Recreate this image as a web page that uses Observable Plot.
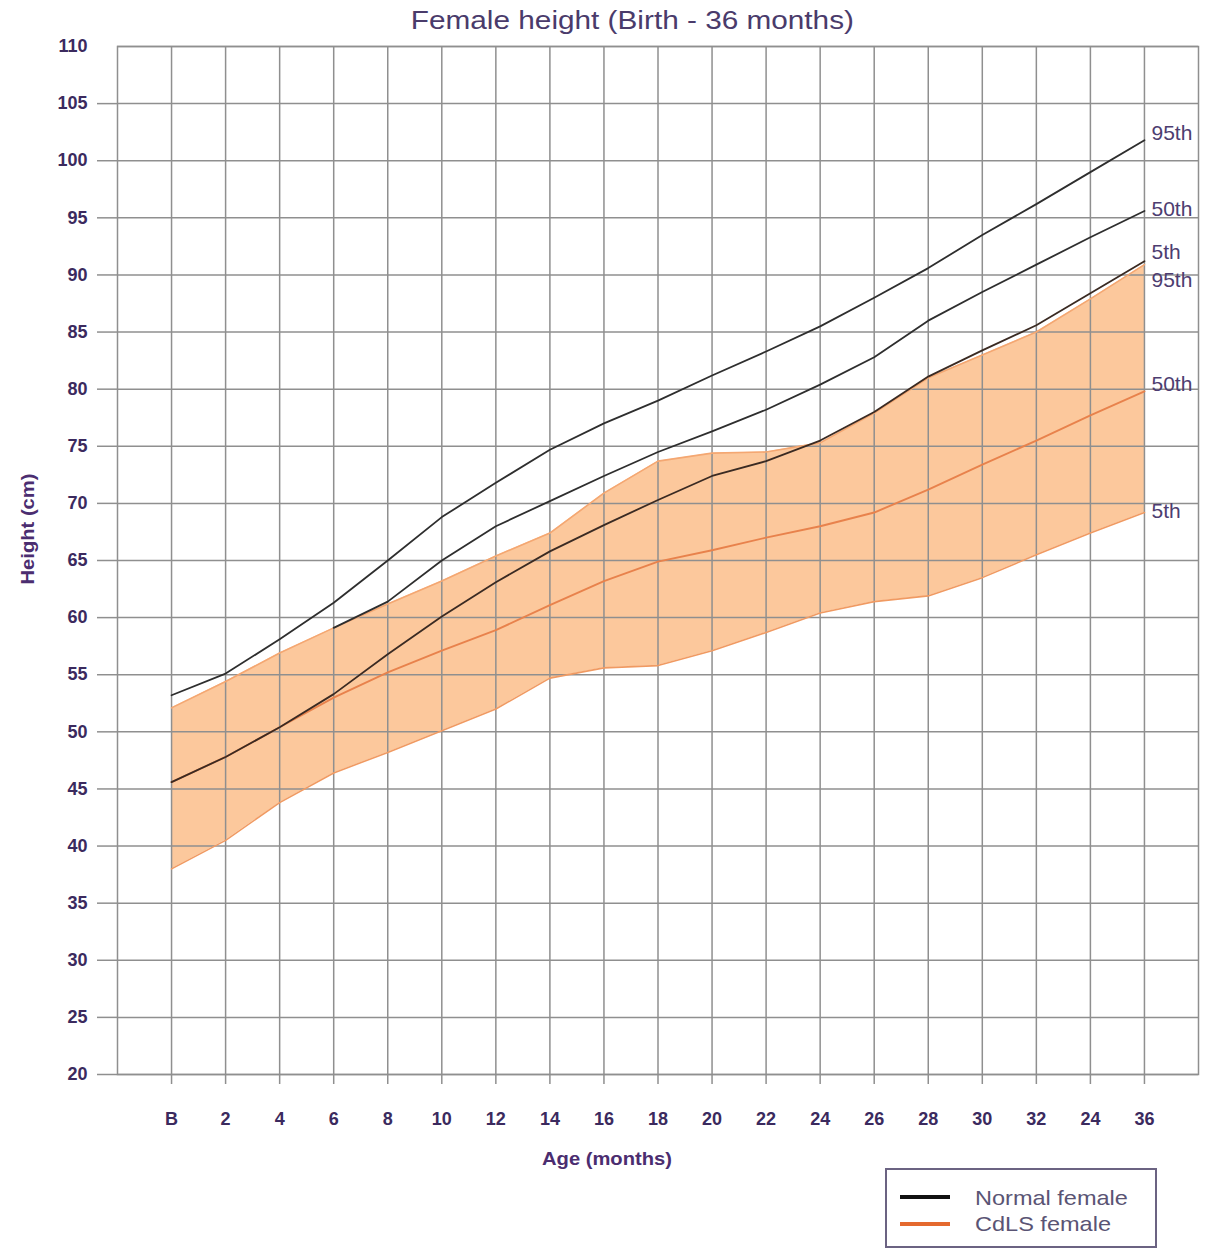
<!DOCTYPE html>
<html>
<head>
<meta charset="utf-8">
<script src="https://cdn.jsdelivr.net/npm/d3@7"></script>
<script src="https://cdn.jsdelivr.net/npm/@observablehq/plot@0.6"></script>
<style>
  html, body { margin: 0; padding: 0; background: #fff; }
  #wrap { position: relative; width: 1205px; height: 1250px; overflow: hidden; font-family: "Liberation Sans", Arial, sans-serif; }
  #chart { position: absolute; left: 0; top: 0; }
  .title { position: absolute; left: 0; width: 1265px; top: 6px; text-align: center; font-size: 25px; color: #4a3b6b; transform: scaleX(1.19); transform-origin: 633px 0; white-space: nowrap; }
  .xlab { position: absolute; left: 607px; top: 1149px; transform: translateX(-50%) scaleX(1.12); font-size: 18px; font-weight: bold; color: #4b2d70; white-space: nowrap; }
  .ylab { position: absolute; left: 28px; top: 529px; transform: translate(-50%, -50%) rotate(-90deg) scaleX(1.12); font-size: 18px; font-weight: bold; color: #4b2d70; white-space: nowrap; }
  .legend { position: absolute; left: 885px; top: 1168px; width: 268px; height: 76px; border: 2px solid #6b6382; background: #fff; }
  .legend .sw { position: absolute; left: 13px; width: 50px; height: 4px; }
  .legend .lt { position: absolute; left: 88px; font-size: 21px; color: #5a5474; white-space: nowrap; transform: scaleX(1.12); transform-origin: 0 50%; }
</style>
</head>
<body>
<div id="wrap">
  <div id="chart"></div>
  <div class="title">Female height (Birth - 36 months)</div>
  <div class="xlab">Age (months)</div>
  <div class="ylab">Height (cm)</div>
  <div class="legend">
    <div class="sw" style="top:25px;background:#111;"></div>
    <div class="lt" style="top:16px;">Normal female</div>
    <div class="sw" style="top:52px;background:#e4692e;"></div>
    <div class="lt" style="top:42px;">CdLS female</div>
  </div>
</div>
<script>
// Age in months (B = birth)
const ages = [0, 2, 4, 6, 8, 10, 12, 14, 16, 18, 20, 22, 24, 26, 28, 30, 32, 34, 36];
const xTickLabels = ["B", "2", "4", "6", "8", "10", "12", "14", "16", "18", "20", "22", "24", "26", "28", "30", "32", "24", "36"];
const yTicks = [20, 25, 30, 35, 40, 45, 50, 55, 60, 65, 70, 75, 80, 85, 90, 95, 100, 105, 110];

// Normal female percentiles (cm)
const normal95 = [53.2, 55.1, 58.1, 61.3, 65.0, 68.8, 71.8, 74.7, 77.0, 79.0, 81.2, 83.3, 85.5, 88.0, 90.6, 93.5, 96.2, 99.0, 101.8];
const normal50 = [null, null, null, 59.1, 61.4, 65.0, 68.0, 70.2, 72.4, 74.5, 76.3, 78.2, 80.4, 82.8, 86.0, 88.5, 90.9, 93.3, 95.6];
const normal5  = [45.6, 47.8, 50.4, 53.3, 56.8, 60.1, 63.1, 65.8, 68.1, 70.3, 72.4, 73.7, 75.5, 78.0, 81.1, 83.4, 85.6, 88.4, 91.2];

// CdLS female percentiles (cm)
const cdls95 = [52.1, 54.4, 56.9, 59.1, 61.2, 63.2, 65.4, 67.4, 70.9, 73.7, 74.4, 74.5, 75.3, 77.9, 81.0, 83.0, 85.0, 87.9, 90.9];
const cdls50 = [45.6, 47.8, 50.4, 53.0, 55.2, 57.1, 58.9, 61.1, 63.2, 64.9, 65.9, 67.0, 68.0, 69.2, 71.2, 73.4, 75.5, 77.7, 79.8];
const cdls5  = [38.0, 40.5, 43.8, 46.4, 48.2, 50.1, 52.0, 54.7, 55.6, 55.8, 57.1, 58.7, 60.4, 61.4, 61.9, 63.5, 65.5, 67.4, 69.2];

const percentileNames = ["95th", "50th", "5th"];

const rows = ages.map((a, i) => ({
  age: a, n95: normal95[i], n50: normal50[i], n5: normal5[i],
  c95: cdls95[i], c50: cdls50[i], c5: cdls5[i]
}));
const last = ages.length - 1;
const xEnd = ages[last];

const gridColor = "#8f8f8f";
const tickText = "#3b2a5e";
const labelColor = "#4d3d70";

function endLabel(name, value, dy) {
  return Plot.text([{name, value}], {
    x: () => xEnd, y: "value", text: "name", dx: 7, dy,
    textAnchor: "start", fontSize: 21, fill: labelColor
  });
}

const plot = Plot.plot({
  width: 1205,
  height: 1250,
  marginTop: 46,
  marginLeft: 117,
  marginRight: 7,
  marginBottom: 176,
  x: {domain: [-2, 38]},
  y: {domain: [20, 110]},
  style: {fontFamily: "'Liberation Sans', Arial, sans-serif", background: "transparent"},
  marks: [
    Plot.areaY(rows, {x: "age", y1: "c5", y2: "c95", fill: "#fcc89c"}),
    Plot.ruleX(ages, {stroke: gridColor, strokeWidth: 1.5}),
    Plot.ruleY(yTicks, {stroke: gridColor, strokeWidth: 1.5}),
    Plot.frame({stroke: gridColor, strokeWidth: 1.5}),
    Plot.line(rows, {x: "age", y: "c95", stroke: "#f4a772", strokeWidth: 1.6}),
    Plot.line(rows, {x: "age", y: "c5", stroke: "#f09a62", strokeWidth: 1.6}),
    Plot.line(rows, {x: "age", y: "c50", stroke: "#e8824c", strokeWidth: 1.9}),
    Plot.line(rows, {x: "age", y: "n95", stroke: "#2e2e2e", strokeWidth: 1.8}),
    Plot.line(rows.filter(d => d.n50 != null), {x: "age", y: "n50", stroke: "#2e2e2e", strokeWidth: 1.8}),
    Plot.line(rows, {x: "age", y: "n5", stroke: "#3a2a22", strokeWidth: 1.8}),
    // Axes
    Plot.axisY(yTicks.filter(d => d < 110), {anchor: "left", tickSize: 20, text: null, stroke: gridColor, strokeWidth: 1.5, label: null}),
    Plot.axisY(yTicks, {anchor: "left", tickSize: 20, tickPadding: 10, fill: tickText, stroke: "none", fontSize: 18, fontWeight: "bold", label: null}),
    Plot.axisX(ages, {anchor: "bottom", tickSize: 10, text: null, stroke: gridColor, strokeWidth: 1.5, label: null}),
    Plot.axisX(ages, {anchor: "bottom", tickSize: 10, tickPadding: 28, fill: tickText, stroke: "none", fontSize: 18, fontWeight: "bold", label: null,
      tickFormat: d => xTickLabels[ages.indexOf(d)]}),
    // Percentile end labels
    endLabel(percentileNames[0], normal95[last], -7),
    endLabel(percentileNames[1], normal50[last], -2),
    endLabel(percentileNames[2], normal5[last], -9),
    endLabel(percentileNames[0], cdls95[last], 16),
    endLabel(percentileNames[1], cdls50[last], -7),
    endLabel(percentileNames[2], cdls5[last], -1)
  ]
});
document.getElementById("chart").appendChild(plot);
</script>
</body>
</html>
